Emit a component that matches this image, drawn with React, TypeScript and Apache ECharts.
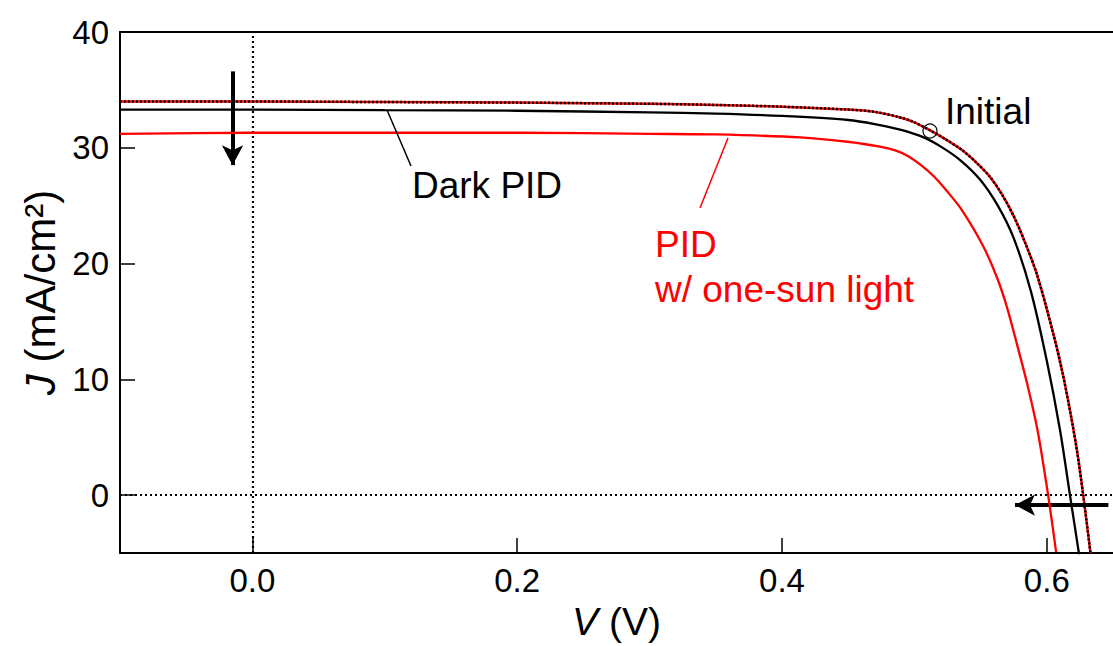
import React, { useEffect, useRef } from "react";
import * as echarts from "echarts";

const xTicks = [0, 0.2, 0.4, 0.6];
const yTicks = [0, 10, 20, 30, 40];

const initialV = [-0.1, 0.0, 0.1, 0.2, 0.3, 0.35, 0.4, 0.45, 0.47, 0.49, 0.5, 0.512, 0.524, 0.536, 0.547, 0.557, 0.566, 0.575, 0.584, 0.593, 0.605, 0.612, 0.618, 0.623, 0.6275, 0.633];
const initialJ = [34.0, 34.0, 33.95, 33.9, 33.8, 33.7, 33.55, 33.3, 33.1, 32.6, 32.2, 31.5, 30.7, 29.8, 28.7, 27.5, 26.0, 24.1, 21.7, 18.9, 13.9, 10.5, 7.0, 3.7, 0, -5.0];

const darkV = [-0.1, 0.0, 0.1, 0.2, 0.3, 0.35, 0.4, 0.45, 0.47, 0.49, 0.507, 0.52, 0.535, 0.55, 0.563, 0.575, 0.588, 0.6, 0.61, 0.6175, 0.6245];
const darkJ = [33.3, 33.3, 33.25, 33.2, 33.05, 32.95, 32.75, 32.4, 32.05, 31.55, 30.9, 30.1, 28.9, 27.2, 25.0, 22.2, 17.6, 11.6, 5.6, 0, -5.2];

const pidV = [-0.1, 0.0, 0.1, 0.2, 0.3, 0.35, 0.414, 0.451, 0.474, 0.485, 0.495, 0.505, 0.515, 0.525, 0.536, 0.552, 0.563, 0.57, 0.578, 0.585, 0.593, 0.601, 0.607];
const pidJ = [31.2, 31.3, 31.3, 31.3, 31.2, 31.15, 30.9, 30.5, 30.1, 29.8, 29.3, 28.5, 27.5, 26.2, 24.6, 21.5, 18.6, 16.2, 12.8, 9.7, 5.6, 0, -4.9];

const zip = (a: number[], b: number[]) => a.map((v, i) => [v, b[i]]);

const FONT = "'Liberation Sans', Arial, sans-serif";
const ANN = 37;

export default function App() {
  const ref = useRef<HTMLDivElement>(null);
  useEffect(() => {
    const chart = echarts.init(ref.current!, null, { renderer: "svg" });
    const curve = (data: number[][], lineStyle: any, z: number) => ({
      type: "line",
      data,
      smooth: 0.3,
      showSymbol: false,
      silent: true,
      lineStyle,
      z,
    });
    const option: any = {
      animation: false,
      backgroundColor: "#fff",
      textStyle: { fontFamily: FONT },
      grid: { left: 120, top: 32, right: 0, bottom: 93 },
      xAxis: [
        {
          type: "value",
          min: -0.1,
          max: 0.65,
          name: "{i|V} (V)",
          nameLocation: "middle",
          nameGap: 36,
          nameTextStyle: {
            fontSize: 39,
            color: "#000",
            fontFamily: FONT,
            rich: { i: { fontStyle: "italic", fontSize: 39, fontFamily: FONT, color: "#000" } },
          },
          axisLine: { onZero: false, lineStyle: { color: "#000", width: 2 } },
          axisTick: { inside: true, length: 15, customValues: xTicks, lineStyle: { color: "#000", width: 1.5 } },
          axisLabel: {
            customValues: xTicks,
            formatter: (v: number) => v.toFixed(1),
            fontSize: 33,
            color: "#000",
            fontFamily: FONT,
            margin: 11,
          },
          splitLine: { show: false },
        },
        {
          type: "value",
          position: "top",
          min: -0.1,
          max: 0.65,
          axisLine: { show: true, onZero: false, lineStyle: { color: "#000", width: 2 } },
          axisTick: { show: false },
          axisLabel: { show: false },
          splitLine: { show: false },
        },
      ],
      yAxis: {
        type: "value",
        min: -5,
        max: 40,
        name: "{i|J} (mA/cm²)",
        nameLocation: "middle",
        nameGap: 58,
        nameTextStyle: {
          fontSize: 42,
          color: "#000",
          fontFamily: FONT,
          rich: { i: { fontStyle: "italic", fontSize: 42, fontFamily: FONT, color: "#000" } },
        },
        axisLine: { show: true, onZero: false, lineStyle: { color: "#000", width: 2 } },
        axisTick: { show: true, inside: true, length: 15, customValues: yTicks, lineStyle: { color: "#000", width: 1.5 } },
        axisLabel: { customValues: yTicks, fontSize: 33, color: "#000", fontFamily: FONT, margin: 11 },
        splitLine: { show: false },
      },
      series: [
        {
          type: "line",
          data: [],
          silent: true,
          markLine: {
            silent: true,
            symbol: ["none", "none"],
            label: { show: false },
            lineStyle: { color: "#000", width: 2.2, type: [2, 3], opacity: 1 },
            data: [
              [{ coord: [0, -5] }, { coord: [0, 40] }],
              [{ coord: [-0.1, 0] }, { coord: [0.65, 0] }],
            ],
          },
        },
        curve(zip(initialV, initialJ), { color: "#ff0000", width: 2.5 }, 3),
        curve(zip(initialV, initialJ), { color: "#000", width: 2.5, type: [2, 2] }, 4),
        curve(zip(darkV, darkJ), { color: "#000", width: 2.3 }, 5),
        curve(zip(pidV, pidJ), { color: "#ff0000", width: 2.3 }, 5),
        {
          type: "line",
          data: [],
          silent: true,
          z: 6,
          markLine: {
            silent: true,
            symbol: ["none", "arrow"],
            symbolSize: [16, 20],
            label: { show: false },
            lineStyle: { color: "#000", width: 4, type: "solid", opacity: 1 },
            data: [
              [{ coord: [-0.015, 36.6] }, { coord: [-0.015, 28.5] }],
              [{ coord: [0.6465, -0.86] }, { coord: [0.576, -0.86] }],
            ],
          },
        },
      ],
      graphic: [
        { type: "line", shape: { x1: 387, y1: 110, x2: 411, y2: 166 }, style: { stroke: "#000", lineWidth: 1.5 }, z: 10 },
        { type: "line", shape: { x1: 728, y1: 138, x2: 700, y2: 208 }, style: { stroke: "#ff0000", lineWidth: 1.5 }, z: 10 },
        { type: "circle", shape: { cx: 930, cy: 131, r: 7 }, style: { fill: "none", stroke: "#000", lineWidth: 1.2 }, z: 10 },
        { type: "text", x: 412, y: 185, style: { text: "Dark PID", fontSize: ANN, fontFamily: FONT, fill: "#000", verticalAlign: "middle" }, z: 10 },
        { type: "text", x: 945, y: 111, style: { text: "Initial", fontSize: ANN, fontFamily: FONT, fill: "#000", verticalAlign: "middle" }, z: 10 },
        { type: "text", x: 655, y: 244, style: { text: "PID", fontSize: ANN, fontFamily: FONT, fill: "#ff0000", verticalAlign: "middle" }, z: 10 },
        { type: "text", x: 655, y: 289, style: { text: "w/ one-sun light", fontSize: ANN, fontFamily: FONT, fill: "#ff0000", verticalAlign: "middle" }, z: 10 },
      ],
    };
    chart.setOption(option);
    return () => chart.dispose();
  }, []);
  return <div ref={ref} style={{ position: "fixed", left: 0, top: 0, width: 1113, height: 646 }} />;
}
